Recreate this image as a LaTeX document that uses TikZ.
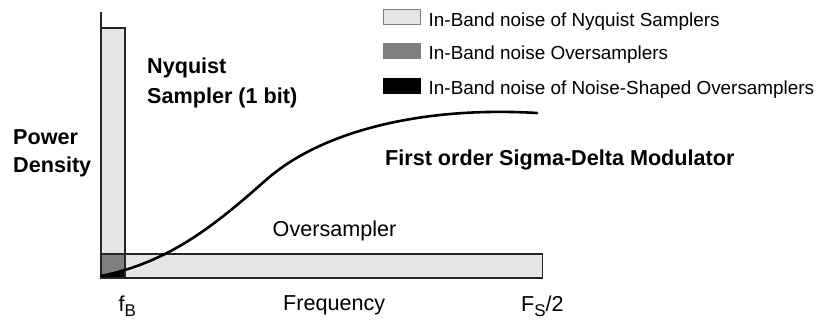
\documentclass[tikz,border=0pt]{standalone}
\usepackage{fontspec}
\setmainfont{Liberation Sans}
\definecolor{lgray}{HTML}{E6E6E6}
\definecolor{mgray}{HTML}{7F7F7F}
\begin{document}
\begin{tikzpicture}[x=1bp,y=-1bp,
  lbl/.style={inner sep=0pt, anchor=base west, font=\fontsize{21.6bp}{26bp}\selectfont},
  blbl/.style={inner sep=0pt, anchor=base west, font=\fontsize{21.6bp}{26bp}\selectfont\bfseries},
  leg/.style={inner sep=0pt, anchor=base west, font=\fontsize{18.9bp}{22bp}\selectfont},
  legbox/.style={minimum width=37bp, minimum height=15.5bp, inner sep=0pt, anchor=south west, draw=mgray, line width=0.9bp},
  frame/.style={draw=black!85, line width=1.4bp},
  curve/.style={line width=2.6bp, line cap=round}]
\useasboundingbox (0,0) rectangle (819,322);
% rectangles
\draw[frame, fill=lgray] (101,28) rectangle (125,278);
\draw[frame, fill=lgray] (101,254) rectangle (542.5,278);
\draw[frame, fill=mgray] (101,254) rectangle (125,278);
\draw[frame] (101,12) -- (101,278);
% black in-band region
\begin{scope}
\clip (101,254) rectangle (125,278);
\fill[black] (101,276) .. controls (170,262) and (215,225) .. (266,180) -- (266,278) -- (101,278) -- cycle;
\end{scope}
\draw[frame] (101,254) rectangle (125,278);
% curve
\draw[curve] (101,276) .. controls (170,262) and (215,225) .. (266,180)
  .. controls (320,132) and (420,106) .. (537,113);
% labels
\node[blbl] (nyq1) at (147,73.8) {Nyquist};
\node[blbl] (nyq2) at (147,103.2) {Sampler (1 bit)};
\node[blbl] (pow1) at (13,144.8) {Power};
\node[blbl] (pow2) at (13,172.8) {Density};
\node[blbl] (sdm) at (385,165.5) {First order Sigma-Delta Modulator};
\node[lbl] (ovs) at (272.5,236) {Oversampler};
\node[lbl] (freq) at (283,310.5) {Frequency};
\node[lbl] (fb) at (118.5,311) {f\raisebox{-5.5bp}{\fontsize{17bp}{20bp}\selectfont B}};
\node[lbl] (fs) at (521,311) {F\raisebox{-5.5bp}{\fontsize{17bp}{20bp}\selectfont S}/2};
% legend
\node[legbox, fill=lgray] (b1) at (383.3,25) {};
\node[legbox, fill=mgray] (b2) at (383.3,59.3) {};
\node[legbox, fill=black, draw=black] (b3) at (383.3,94) {};
\node[leg] (t1) at (428.5,26) {In-Band noise of Nyquist Samplers};
\node[leg] (t2) at (428.5,59.3) {In-Band noise Oversamplers};
\node[leg] (t3) at (428.5,94) {In-Band noise of Noise-Shaped Oversamplers};
\end{tikzpicture}
\end{document}
